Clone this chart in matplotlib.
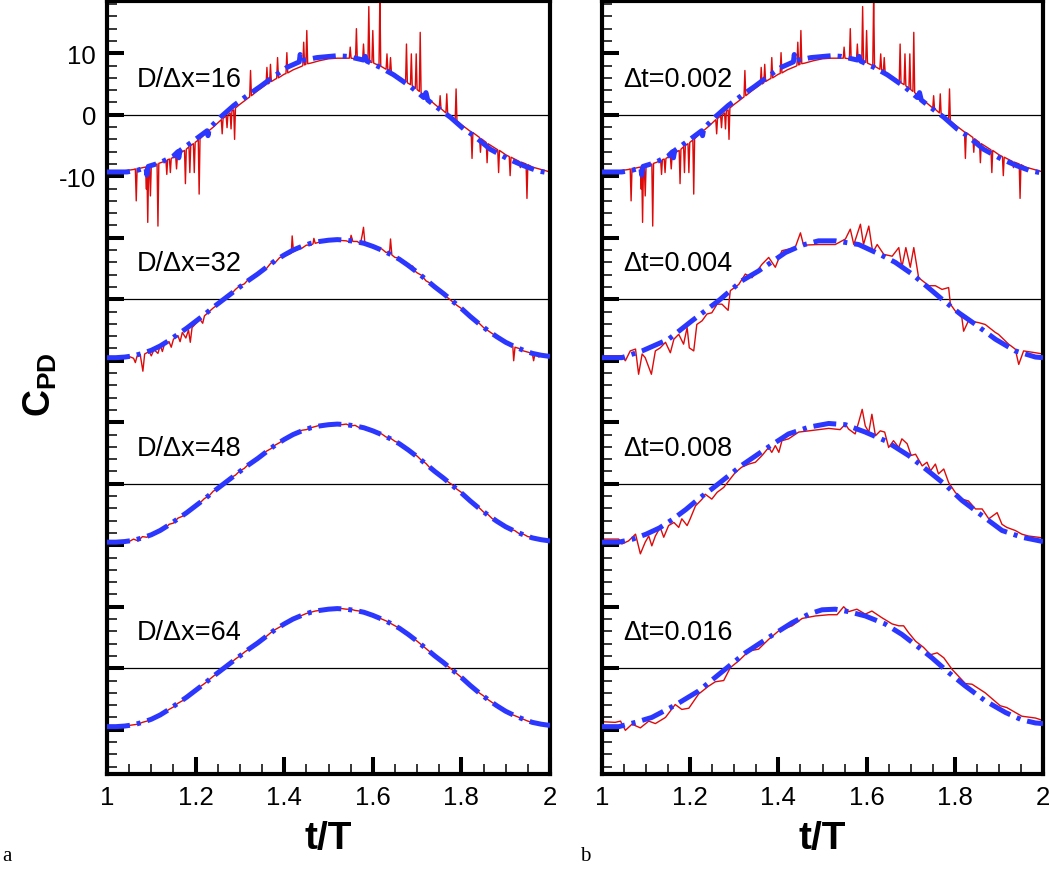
import matplotlib
matplotlib.use("Agg")
import matplotlib.pyplot as plt
from matplotlib.ticker import FixedLocator, FixedFormatter, MultipleLocator, FormatStrFormatter

plt.rcParams['font.family'] = ['Liberation Sans', 'DejaVu Sans']
plt.rcParams['mathtext.fontset'] = 'custom'
plt.rcParams['mathtext.bf'] = 'Liberation Sans:bold'
plt.rcParams['mathtext.rm'] = 'Liberation Sans'

# ---------------- data ----------------
OFFSETS = [0, -30, -60, -90]
LEFT_LABELS = ['D/\u0394x=16', 'D/\u0394x=32', 'D/\u0394x=48', 'D/\u0394x=64']
RIGHT_LABELS = ['\u0394t=0.002', '\u0394t=0.004', '\u0394t=0.008', '\u0394t=0.016']
X_TICKS = [1.0, 1.2, 1.4, 1.6, 1.8, 2.0]
Y_LABELED = {10: '10', 0: '0', -10: '-10'}

# spiky red signal, coarsest grid (top block, both panels)
RED_16 = [
    (1.000, -9.4), (1.020, -9.3), (1.040, -9.1), (1.050, -9.0), (1.060, -8.9),
    (1.064, -8.8), (1.066, -14.0), (1.068, -8.8), (1.080, -8.6),
    (1.087, -8.5), (1.089, -12.1), (1.090, -8.5), (1.092, -17.5), (1.094, -8.4),
    (1.096, -8.4), (1.098, -13.2), (1.100, -8.3), (1.110, -8.1),
    (1.113, -8.0), (1.115, -18.1), (1.117, -7.9), (1.125, -7.7),
    (1.133, -7.4), (1.135, -9.7), (1.137, -7.3), (1.141, -7.2), (1.143, -9.4), (1.145, -7.1),
    (1.150, -6.9), (1.155, -6.8), (1.157, -8.8), (1.159, -6.6), (1.170, -6.0),
    (1.175, -5.8), (1.177, -11.2), (1.179, -5.6), (1.185, -5.2), (1.187, -9.4), (1.189, -5.0),
    (1.195, -4.7), (1.197, -9.4), (1.199, -4.5), (1.206, -4.1), (1.208, -12.9), (1.210, -3.9),
    (1.220, -3.2), (1.240, -2.0), (1.258, -0.8), (1.260, -3.1), (1.262, -0.6),
    (1.269, -0.2), (1.271, -2.1), (1.273, 0.0), (1.278, 0.3), (1.280, -2.3), (1.282, 0.6),
    (1.286, 0.8), (1.288, -4.0), (1.290, 1.1), (1.300, 1.7), (1.320, 2.8),
    (1.322, 2.9), (1.324, 7.2), (1.326, 3.1), (1.340, 3.9), (1.359, 4.9), (1.361, 7.7), (1.363, 5.0),
    (1.367, 5.2), (1.369, 8.2), (1.371, 5.4), (1.380, 5.8), (1.383, 5.9), (1.385, 9.3), (1.387, 6.0),
    (1.400, 6.6), (1.404, 6.7), (1.406, 10.1), (1.408, 6.8), (1.420, 7.3), (1.440, 7.9),
    (1.442, 8.0), (1.444, 11.8), (1.446, 8.1), (1.449, 8.2), (1.451, 13.7), (1.453, 8.3),
    (1.460, 8.4), (1.480, 8.8), (1.500, 9.1), (1.520, 9.2), (1.540, 9.2),
    (1.547, 9.2), (1.549, 11.0), (1.551, 9.2), (1.561, 9.1), (1.563, 14.0), (1.565, 9.1),
    (1.577, 8.9), (1.579, 11.5), (1.581, 8.9), (1.589, 8.7), (1.591, 17.6), (1.593, 8.6),
    (1.598, 8.5), (1.600, 13.7), (1.602, 8.4), (1.614, 8.0), (1.616, 19.5), (1.618, 7.9),
    (1.630, 7.4), (1.632, 9.9), (1.634, 7.3), (1.638, 7.1), (1.640, 9.3), (1.642, 6.9),
    (1.660, 6.1), (1.674, 5.4), (1.676, 11.5), (1.678, 5.2), (1.685, 4.9), (1.687, 9.9), (1.689, 4.7),
    (1.696, 4.3), (1.698, 9.9), (1.700, 4.1), (1.705, 3.8), (1.707, 13.4), (1.709, 3.6),
    (1.720, 2.9), (1.740, 1.7), (1.750, 1.1), (1.752, 3.1), (1.754, 1.0),
    (1.765, 0.3), (1.767, 3.4), (1.769, 0.2), (1.780, -0.5), (1.786, -0.8), (1.788, 4.2), (1.790, -1.0),
    (1.800, -1.6), (1.822, -2.8), (1.824, -7.1), (1.826, -2.9), (1.841, -3.7), (1.843, -6.1), (1.845, -3.9),
    (1.856, -4.5), (1.858, -7.8), (1.860, -4.7), (1.880, -5.6), (1.882, -5.7), (1.884, -9.4), (1.886, -5.8),
    (1.900, -6.5), (1.908, -6.8), (1.910, -9.9), (1.912, -6.9), (1.920, -7.2),
    (1.931, -7.6), (1.933, -8.6), (1.935, -7.7), (1.946, -8.0), (1.948, -13.6), (1.950, -8.1),
    (1.960, -8.5), (1.980, -8.9), (2.000, -9.3),
]
BLUE_16 = [
    (1.000, -9.3), (1.045, -9.3), (1.070, -9.0), (1.088, -8.6), (1.090, -9.8), (1.093, -8.4),
    (1.120, -7.8), (1.150, -6.7), (1.160, -6.0), (1.162, -7.0), (1.165, -5.8), (1.196, -4.2),
    (1.226, -2.6), (1.228, -3.4), (1.231, -2.2), (1.256, -0.4), (1.286, 1.5), (1.316, 3.1),
    (1.346, 4.6), (1.376, 6.2), (1.406, 7.7), (1.434, 8.6), (1.436, 9.8), (1.438, 8.8),
    (1.474, 9.3), (1.519, 9.6), (1.542, 9.5), (1.579, 8.9), (1.583, 9.5), (1.587, 8.7),
    (1.617, 7.7), (1.647, 6.5), (1.685, 4.6), (1.715, 2.8), (1.720, 3.6), (1.724, 2.4),
    (1.745, 1.2), (1.775, -0.4), (1.805, -2.3), (1.828, -3.4), (1.865, -5.6), (1.903, -7.1),
    (1.941, -8.3), (1.971, -9.1), (2.000, -9.5),
]
RED_32 = [
    (1.000, -9.5), (1.040, -9.4), (1.050, -9.3), (1.060, -9.6), (1.064, -10.3), (1.068, -9.2),
    (1.075, -9.0), (1.081, -11.7), (1.085, -8.9), (1.095, -8.5), (1.100, -9.2), (1.106, -8.2),
    (1.115, -8.8), (1.120, -7.5), (1.125, -8.5), (1.130, -7.2), (1.140, -6.9), (1.145, -7.8),
    (1.150, -6.5), (1.160, -5.9), (1.165, -6.9), (1.170, -5.4), (1.178, -6.3), (1.184, -5.0),
    (1.188, -7.0), (1.192, -4.6), (1.200, -4.0), (1.210, -3.3), (1.216, -3.9), (1.220, -2.7),
    (1.240, -1.4), (1.250, -0.9), (1.260, -0.4), (1.270, 0.4), (1.280, 0.8), (1.290, 1.6),
    (1.300, 2.2), (1.310, 2.5), (1.320, 3.3), (1.330, 3.8), (1.340, 4.2), (1.350, 4.8),
    (1.360, 5.0), (1.370, 5.9), (1.380, 6.0), (1.390, 6.8), (1.400, 7.0), (1.410, 7.3),
    (1.416, 7.5), (1.418, 10.3), (1.421, 7.7), (1.430, 8.1), (1.440, 8.3), (1.450, 8.8),
    (1.460, 8.8), (1.465, 9.0), (1.467, 9.9), (1.470, 9.1), (1.480, 9.3), (1.500, 9.5),
    (1.520, 9.6), (1.540, 9.5), (1.548, 9.3), (1.551, 10.4), (1.555, 9.4), (1.565, 9.4),
    (1.572, 9.0), (1.576, 10.4), (1.579, 11.7), (1.582, 9.2), (1.590, 8.9), (1.600, 8.6),
    (1.610, 8.1), (1.620, 8.2), (1.630, 7.6), (1.638, 7.8), (1.640, 9.8), (1.643, 7.2),
    (1.650, 6.8), (1.660, 6.7), (1.665, 6.0), (1.675, 6.0), (1.680, 5.2), (1.690, 5.4),
    (1.695, 4.6), (1.700, 4.3), (1.710, 3.9), (1.720, 3.0), (1.730, 2.6), (1.740, 1.9),
    (1.750, 1.4), (1.760, 0.7), (1.770, 0.2), (1.780, -0.4), (1.790, -1.0), (1.800, -1.5),
    (1.810, -2.3), (1.820, -2.7), (1.830, -3.5), (1.840, -3.9), (1.850, -4.6), (1.860, -5.1),
    (1.870, -5.6), (1.880, -6.1), (1.890, -6.4), (1.900, -7.0), (1.910, -7.4), (1.916, -7.6),
    (1.918, -10.0), (1.921, -7.8), (1.930, -8.0), (1.940, -8.4), (1.950, -8.6), (1.960, -8.8),
    (1.963, -10.0), (1.966, -8.9), (1.975, -9.4), (1.980, -9.0), (1.990, -9.2), (2.000, -9.3),
]
BLUE_SMOOTH = [
    (1.00, -9.5), (1.02, -9.5), (1.04, -9.4), (1.06, -9.2), (1.08, -8.8), (1.10, -8.3),
    (1.12, -7.6), (1.14, -6.7), (1.16, -5.7), (1.18, -4.7), (1.20, -3.6), (1.22, -2.5),
    (1.24, -1.3), (1.26, -0.2), (1.28, 0.9), (1.30, 2.0), (1.32, 3.1), (1.34, 4.1),
    (1.36, 5.2), (1.38, 6.3), (1.40, 7.2), (1.42, 8.0), (1.44, 8.6), (1.46, 9.1),
    (1.48, 9.4), (1.50, 9.6), (1.52, 9.7), (1.54, 9.6), (1.56, 9.4), (1.58, 9.1),
    (1.60, 8.6), (1.62, 8.0), (1.64, 7.3), (1.66, 6.5), (1.68, 5.5), (1.70, 4.4),
    (1.72, 3.2), (1.74, 2.0), (1.76, 0.9), (1.78, -0.3), (1.80, -1.5), (1.82, -2.8),
    (1.84, -4.0), (1.86, -5.1), (1.88, -6.1), (1.90, -7.0), (1.92, -7.7), (1.94, -8.3),
    (1.96, -8.8), (1.98, -9.1), (2.00, -9.3),
]
RED_48 = [-9.5, -9.6, -9.4, -9.7, -9.3, -9.4, -9.0, -9.3, -8.6, -8.7,
          -8.2, -8.1, -7.5, -7.4, -6.6, -6.4, -5.6, -5.3, -4.6, -4.2,
          -3.5, -3.1, -2.4, -2.0, -1.2, -0.8, -0.1, 0.5, 1.0, 1.4,
          2.1, 2.5, 3.2, 3.5, 4.2, 4.6, 5.3, 5.7, 6.3, 6.7,
          7.3, 7.5, 8.0, 8.3, 8.7, 8.8, 9.1, 9.3, 9.5, 9.4,
          9.7, 9.6, 9.8, 9.6, 9.7, 9.4, 9.5, 9.1, 9.2, 8.8,
          8.7, 8.3, 8.1, 7.6, 7.4, 6.9, 6.6, 6.0, 5.6, 4.9,
          4.5, 3.8, 3.3, 2.5, 2.1, 1.4, 1.0, 0.3, -0.2, -0.9,
          -1.4, -2.2, -2.7, -3.4, -3.9, -4.6, -5.0, -5.7, -6.0, -6.6,
          -6.9, -7.4, -7.6, -8.1, -8.2, -8.6, -8.7, -9.1, -9.0, -9.3, -9.3]
RED_64 = [-9.5, -9.5, -9.4, -9.6, -9.4, -9.3, -9.2, -9.1, -8.8, -8.6,
          -8.3, -8.0, -7.6, -7.2, -6.7, -6.3, -5.7, -5.3, -4.7, -4.1,
          -3.6, -3.0, -2.5, -1.9, -1.3, -0.8, -0.2, 0.4, 0.9, 1.5,
          2.0, 2.6, 3.1, 3.6, 4.1, 4.7, 5.2, 5.8, 6.3, 6.7,
          7.2, 7.6, 8.0, 8.3, 8.6, 8.9, 9.1, 9.3, 9.4, 9.5,
          9.6, 9.8, 9.7, 9.7, 9.6, 9.6, 9.4, 9.3, 9.1, 8.9,
          8.6, 8.4, 8.0, 7.7, 7.3, 6.9, 6.5, 6.0, 5.5, 5.0,
          4.4, 3.8, 3.2, 2.6, 2.0, 1.5, 0.9, 0.3, -0.3, -0.9,
          -1.5, -2.2, -2.8, -3.4, -4.0, -4.5, -5.1, -5.6, -6.1, -6.6,
          -7.0, -7.4, -7.7, -8.0, -8.3, -8.6, -8.8, -9.0, -9.1, -9.3, -9.3]
T_FINE = [round(1.0 + 0.01 * i, 2) for i in range(101)]

RED_DT004 = [
    (1.000, -9.2), (1.045, -9.2), (1.053, -10.0), (1.064, -8.4), (1.076, -8.1), (1.083, -12.2),
    (1.091, -8.9), (1.098, -9.5), (1.112, -12.2), (1.121, -8.4), (1.132, -7.9), (1.144, -7.0),
    (1.155, -8.7), (1.163, -6.5), (1.174, -5.7), (1.185, -7.3), (1.193, -4.6), (1.198, -7.9),
    (1.208, -8.4), (1.215, -4.1), (1.227, -3.5), (1.238, -2.4), (1.249, -2.2), (1.261, -0.8),
    (1.272, -0.8), (1.286, -1.8), (1.291, 1.4), (1.310, 2.4), (1.325, 4.1), (1.340, 3.5),
    (1.363, 5.7), (1.378, 6.8), (1.393, 5.2), (1.408, 7.9), (1.438, 8.4), (1.446, 10.0),
    (1.450, 10.8), (1.457, 8.8), (1.491, 8.9), (1.529, 8.9), (1.552, 9.8), (1.563, 11.4),
    (1.571, 8.9), (1.586, 12.2), (1.593, 8.9), (1.605, 11.9), (1.614, 7.6), (1.624, 8.9),
    (1.639, 7.3), (1.658, 7.0), (1.673, 8.4), (1.680, 5.2), (1.689, 8.4), (1.699, 5.2),
    (1.707, 8.4), (1.718, 3.5), (1.741, 2.2), (1.756, 2.2), (1.771, 1.6), (1.786, 1.9),
    (1.790, -0.8), (1.801, -1.9), (1.816, -3.0), (1.820, -5.2), (1.831, -3.5), (1.854, -3.8),
    (1.869, -4.1), (1.892, -5.4), (1.899, -5.7), (1.922, -7.3), (1.937, -8.1), (1.945, -10.6),
    (1.956, -8.4), (1.983, -8.7), (2.000, -8.9),
]
BLUE_DT004 = [
    (1.000, -9.5), (1.045, -9.5), (1.091, -8.4), (1.151, -6.5), (1.204, -3.5), (1.265, -0.2),
    (1.317, 3.0), (1.355, 4.6), (1.416, 7.6), (1.454, 8.8), (1.491, 9.5), (1.529, 9.5),
    (1.582, 8.9), (1.627, 7.4), (1.665, 6.0), (1.703, 4.1), (1.748, 1.4), (1.771, 0.0),
    (1.809, -2.2), (1.847, -4.1), (1.892, -6.5), (1.937, -8.4), (1.983, -9.4), (2.000, -9.5),
]
RED_DT008 = [
    (1.000, -9.0), (1.038, -9.0), (1.045, -9.8), (1.060, -9.3), (1.076, -8.2), (1.087, -11.4),
    (1.098, -9.5), (1.106, -8.5), (1.113, -10.1), (1.121, -8.5), (1.132, -7.1), (1.140, -8.7),
    (1.151, -6.8), (1.163, -6.3), (1.174, -7.1), (1.181, -5.7), (1.193, -6.8), (1.200, -5.7),
    (1.212, -3.6), (1.227, -2.5), (1.234, -1.7), (1.249, -2.5), (1.261, -1.4), (1.276, -0.6),
    (1.291, 0.8), (1.302, 1.8), (1.317, 2.7), (1.333, 3.2), (1.348, 3.5), (1.363, 4.6),
    (1.378, 5.9), (1.385, 5.1), (1.393, 6.2), (1.401, 5.1), (1.408, 7.0), (1.423, 7.3),
    (1.446, 8.4), (1.469, 8.6), (1.514, 9.0), (1.540, 8.8), (1.552, 9.7), (1.559, 8.9),
    (1.574, 8.1), (1.582, 10.0), (1.590, 12.1), (1.597, 9.4), (1.605, 8.4), (1.612, 11.3),
    (1.620, 7.8), (1.631, 8.6), (1.641, 8.4), (1.650, 5.9), (1.661, 7.0), (1.673, 5.9),
    (1.680, 7.3), (1.692, 6.5), (1.701, 4.6), (1.711, 4.8), (1.726, 2.9), (1.737, 3.5),
    (1.745, 2.1), (1.756, 3.2), (1.763, 1.6), (1.775, 2.4), (1.786, 0.2), (1.801, -1.4),
    (1.816, -2.5), (1.831, -2.8), (1.847, -4.1), (1.862, -4.1), (1.877, -5.7), (1.896, -4.7),
    (1.907, -6.6), (1.918, -7.1), (1.937, -7.6), (1.952, -8.2), (1.967, -8.5), (2.000, -8.8),
]
BLUE_DT008 = [
    (1.000, -9.5), (1.038, -9.5), (1.070, -9.0), (1.100, -8.2), (1.130, -7.2), (1.160, -5.8),
    (1.190, -4.2), (1.220, -2.4), (1.250, -0.8), (1.280, 0.9), (1.317, 3.0), (1.378, 6.0),
    (1.423, 8.1), (1.469, 9.2), (1.514, 9.8), (1.552, 9.6), (1.597, 8.4), (1.642, 7.0),
    (1.695, 4.6), (1.748, 1.6), (1.779, -0.2), (1.816, -2.7), (1.862, -5.2), (1.907, -7.6),
    (1.952, -8.7), (2.000, -9.4),
]
RED_DT016 = [
    (1.000, -8.7), (1.030, -8.8), (1.042, -8.6), (1.053, -10.1), (1.068, -9.1), (1.087, -9.7),
    (1.106, -8.6), (1.121, -9.0), (1.144, -8.0), (1.166, -5.9), (1.181, -6.7), (1.197, -6.5),
    (1.219, -4.2), (1.242, -2.9), (1.257, -2.2), (1.276, -2.0), (1.291, 0.1), (1.310, 1.2),
    (1.333, 2.8), (1.355, 3.1), (1.378, 4.7), (1.401, 6.1), (1.431, 6.9), (1.454, 8.1),
    (1.484, 8.5), (1.514, 8.7), (1.533, 8.7), (1.548, 10.0), (1.559, 9.2), (1.578, 9.6),
    (1.597, 8.8), (1.612, 9.3), (1.635, 8.2), (1.658, 7.2), (1.673, 6.9), (1.684, 6.9),
    (1.695, 5.8), (1.711, 4.4), (1.729, 3.4), (1.745, 2.2), (1.760, 2.5), (1.775, 1.7),
    (1.794, -0.2), (1.824, -2.5), (1.839, -2.6), (1.869, -4.0), (1.903, -6.1), (1.918, -6.4),
    (1.952, -7.8), (1.983, -8.1), (2.000, -8.5),
]
BLUE_DT016 = [
    (1.000, -9.5), (1.038, -9.5), (1.076, -8.8), (1.113, -8.0), (1.166, -6.0), (1.219, -3.7),
    (1.265, -1.0), (1.325, 2.5), (1.378, 5.0), (1.431, 7.4), (1.469, 8.8), (1.499, 9.5),
    (1.529, 9.6), (1.559, 9.2), (1.597, 8.5), (1.642, 7.2), (1.680, 5.5), (1.718, 3.4),
    (1.748, 1.7), (1.786, -0.7), (1.824, -2.9), (1.869, -5.3), (1.915, -7.2), (1.952, -8.4),
    (1.983, -8.9), (2.000, -9.0),
]

LEFT_SERIES = [
    (RED_16, BLUE_16),
    (RED_32, BLUE_SMOOTH),
    (list(zip(T_FINE, RED_48)), BLUE_SMOOTH),
    (list(zip(T_FINE, RED_64)), BLUE_SMOOTH),
]
RIGHT_SERIES = [
    (RED_16, BLUE_16),
    (RED_DT004, BLUE_DT004),
    (RED_DT008, BLUE_DT008),
    (RED_DT016, BLUE_DT016),
]

# ---------------- style ----------------
RED = '#dd0a0a'
BLUE = '#2b37ff'
W, H = 1050, 870

fig = plt.figure(figsize=(W / 100, H / 100), dpi=100)
ax_l = fig.add_axes([107 / W, (H - 775) / H, 443 / W, 773 / H])
ax_r = fig.add_axes([602 / W, (H - 775) / H, 441 / W, 773 / H])


def style_axes(ax, show_ylabels):
    ax.set_xlim(1, 2)
    ax.set_ylim(-107.2, 18.5)
    for s in ax.spines.values():
        s.set_linewidth(3.0)
    ax.xaxis.set_major_locator(FixedLocator(X_TICKS))
    ax.xaxis.set_major_formatter(FormatStrFormatter('%g'))
    ax.xaxis.set_minor_locator(MultipleLocator(0.05))
    majors = list(range(-100, 11, 10))
    ax.yaxis.set_major_locator(FixedLocator(majors))
    if show_ylabels:
        ax.yaxis.set_major_formatter(FixedFormatter([Y_LABELED.get(v, '') for v in majors]))
    else:
        ax.yaxis.set_major_formatter(FixedFormatter([''] * len(majors)))
    ax.yaxis.set_minor_locator(MultipleLocator(2))
    ax.tick_params(which='both', direction='in', top=False, right=False)
    ax.tick_params(which='major', length=12.5, width=2.9, labelsize=18.5, pad=8)
    ax.tick_params(which='minor', length=7.5, width=1.1)
    ax.set_xlabel('t/T', fontsize=28, fontweight='bold', labelpad=8)


def draw_panel(ax, series, labels, xtext):
    for off, (red, blue), lab in zip(OFFSETS, series, labels):
        ax.axhline(off, color='black', lw=0.9, zorder=1)
        rt, rv = zip(*red)
        bt, bv = zip(*blue)
        ax.plot(rt, [v + off for v in rv], color=RED, lw=1.0, zorder=2)
        ax.plot(bt, [v + off for v in bv], color=BLUE, lw=3.6,
                dashes=(4.6, 1.4, 0.8, 1.4), zorder=3)
        ax.text(xtext, off + 4.7, lab, fontsize=19.5, ha='left', va='baseline', zorder=4)


style_axes(ax_l, True)
style_axes(ax_r, False)
draw_panel(ax_l, LEFT_SERIES, LEFT_LABELS, 1.068)
draw_panel(ax_r, RIGHT_SERIES, RIGHT_LABELS, 1.049)

fig.text(40 / W, 1 - 385 / H, r'$\mathbf{C}_{\mathbf{PD}}$', rotation=90,
         fontsize=27, ha='center', va='center')
fig.text(2 / W, 1 - 857 / H, 'a', family='Liberation Serif', fontsize=15, va='center')
fig.text(580 / W, 1 - 857 / H, 'b', family='Liberation Serif', fontsize=15, va='center')

fig.savefig('out.png', dpi=100)
